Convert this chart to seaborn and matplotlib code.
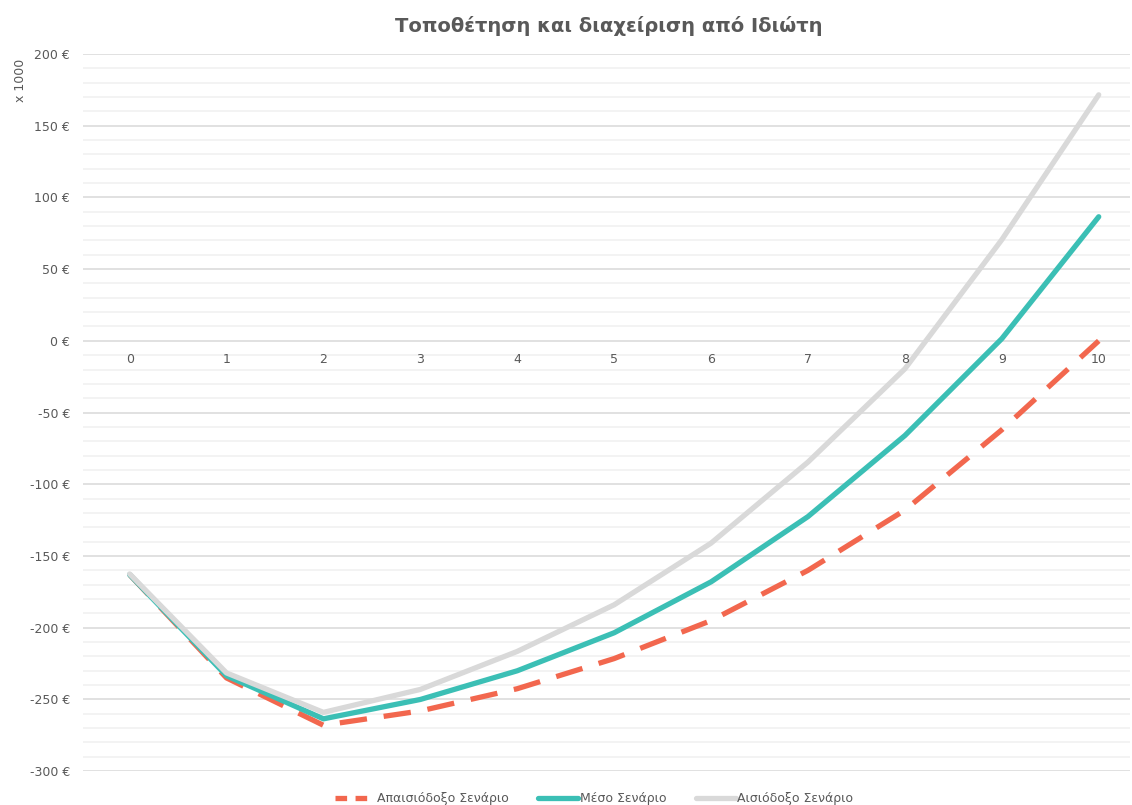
import numpy as np
import pandas as pd
import matplotlib
matplotlib.use("Agg")
import matplotlib.pyplot as plt
from matplotlib.ticker import MultipleLocator, FuncFormatter
from matplotlib.lines import Line2D
import seaborn as sns

# values in thousands of euro, years 0..10
years = list(range(11))
pessimistic = [-163, -235, -268, -258, -242.5, -221.5, -195, -160, -118, -62, 0]
middle = [-163, -233.5, -263.5, -250, -230, -203.5, -168, -122.5, -66, 1.5, 86.5]
optimistic = [-162.5, -231.5, -259, -243, -216.5, -184, -141, -84.5, -19.5, 70.5, 171.5]
series_names = ["Απαισιόδοξο Σενάριο", "Μέσο Σενάριο", "Αισιόδοξο Σενάριο"]
colors = ["#F2674E", "#3BBFB5", "#D9D9D9"]

df = pd.DataFrame({
    "year": years * 3,
    "value": pessimistic + middle + optimistic,
    "scenario": [series_names[0]] * 11 + [series_names[1]] * 11 + [series_names[2]] * 11,
})

sns.set_style("white")
plt.rcParams["font.family"] = ["DejaVu Sans"]

fig = plt.figure(figsize=(11.32, 8.05), dpi=100)
ax = fig.add_axes([0.073, 0.042, 0.925, 0.891])

dash_pat = (5.2, 3.2)
sns.lineplot(data=df, x="year", y="value", hue="scenario", style="scenario",
             hue_order=series_names, style_order=series_names,
             palette=dict(zip(series_names, colors)),
             dashes={series_names[0]: dash_pat, series_names[1]: "", series_names[2]: ""},
             linewidth=3.8, ax=ax, legend=False)

ax.set_xlim(-0.485, 10.32)
ax.set_ylim(-300, 200)
ax.yaxis.set_major_locator(MultipleLocator(50))
ax.yaxis.set_minor_locator(MultipleLocator(10))
ax.yaxis.set_major_formatter(FuncFormatter(lambda v, p: f"{int(v)} €"))
ax.grid(True, which="major", axis="y", color="#D9D9D9", linewidth=1.1, zorder=0)
ax.grid(True, which="minor", axis="y", color="#F0F0F0", linewidth=1.1, zorder=0)
ax.set_axisbelow(True)
for s in ax.spines.values():
    s.set_visible(False)
ax.tick_params(axis="y", which="both", length=0, labelsize=9, labelcolor="#595959", pad=9)
ax.set_xticks([])
ax.set_xlabel("")
ax.set_ylabel("")

# category labels sit next to the zero line
for yr in years:
    ax.text(yr, -13, str(yr), ha="center", va="center", fontsize=9, color="#595959")

fig.text(0.012, 0.9, "x 1000", rotation=90, ha="left", va="center", fontsize=9, color="#595959")
fig.text(0.538, 0.968, "Τοποθέτηση και διαχείριση από Ιδιώτη", ha="center", va="center",
         fontsize=14, fontweight="bold", color="#595959")

# legend at bottom
handles = [
    Line2D([], [], color=colors[0], lw=3.8, dashes=(2.2, 1.6)),
    Line2D([], [], color=colors[1], lw=3.8),
    Line2D([], [], color=colors[2], lw=3.8),
]
fig.legend(handles, series_names, loc="center", bbox_to_anchor=(0.525, 0.008), ncol=3,
           frameon=False, fontsize=9, labelcolor="#595959", handlelength=3.2,
           handletextpad=0.1, columnspacing=2.4)

fig.savefig("out.png", dpi=100)
